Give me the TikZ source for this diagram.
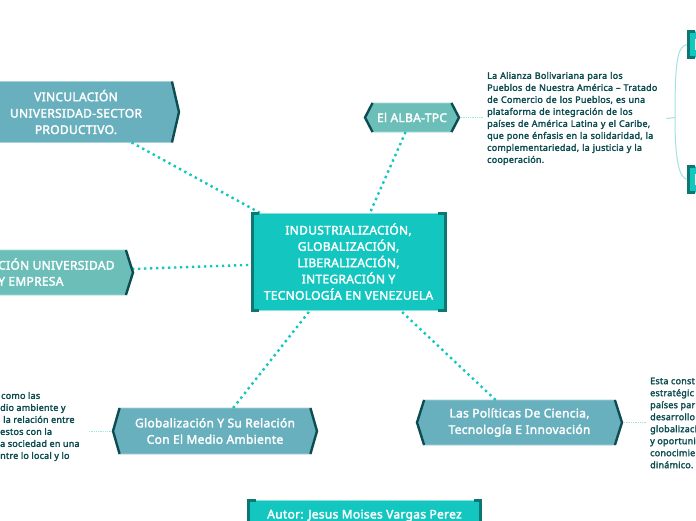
\documentclass[tikz,border=0pt]{standalone}
\usepackage{fontspec}
\setmainfont{Noto Sans}
\newfontfamily\heavyfont{Noto Sans}[FakeBold=2.4,LetterSpace=2.5]
\definecolor{MainTeal}{RGB}{19, 198, 191}
\definecolor{BlueTeal}{RGB}{104, 176, 189}
\definecolor{SoftTeal}{RGB}{108, 191, 185}
\definecolor{DeepTeal}{RGB}{13, 76, 80}
\definecolor{EdgeTeal}{RGB}{13, 120, 115}
\definecolor{PaleTeal}{RGB}{158, 228, 224}
\usetikzlibrary{calc, shapes.symbols}

\begin{document}
\begin{tikzpicture}[
        x=1pt, y=-1pt,
        hexbox/.style={shape=signal, signal to=east and west, fill=#1, draw=#1!60!white, line width=0.7pt,
            inner sep=0pt, outer sep=0pt, text=white, align=center,
            font=\heavyfont\fontsize{12}{16.4}\selectfont},
        hextext/.style={inner sep=0pt, text=white, align=left, font=\heavyfont\fontsize{12}{16}\selectfont},
        mainbox/.style={rectangle, fill=MainTeal, draw=MainTeal!50!white, line width=0.7pt,
            inner sep=0pt, outer sep=0pt, text=white, align=center,
            font=\heavyfont\fontsize{12}{16.3}\selectfont},
        note/.style={inner sep=0pt, text=DeepTeal, align=left, font=\heavyfont\fontsize{9}{12}\selectfont},
        link/.style={draw=MainTeal, line width=2.4pt, dash pattern=on 2.4pt off 3.6pt},
        thinlink/.style={draw=PaleTeal, line width=0.8pt, densely dotted},
        branch/.style={draw=PaleTeal, line width=1pt},
        bracket/.style={draw=EdgeTeal, line width=3pt, line join=miter},
        tipedge/.style={draw=DeepTeal, line width=2.4pt, line join=miter}
    ]
        \useasboundingbox (0,0) rectangle (696,520);

        \node[mainbox, minimum width=193pt, minimum height=97pt] (main) at (348.5,261.5) {INDUSTRIALIZACIÓN,\\GLOBALIZACIÓN,\\LIBERALIZACIÓN,\\INTEGRACIÓN Y\\TECNOLOGÍA EN VENEZUELA};
        \node[mainbox, minimum width=232pt, minimum height=30pt] (autor) at (364.5,515.5) {Autor: Jesus Moises Vargas Perez};

        \node[hexbox=BlueTeal, minimum width=206pt, minimum height=61pt, signal pointer angle=154] (vinc) at (76,112) {VINCULACIÓN\\UNIVERSIDAD-SECTOR\\PRODUCTIVO.};
        \node[hexbox=SoftTeal, minimum width=206pt, minimum height=45pt, signal pointer angle=145] (empresa) at (30,272.5) {};
        \node[hextext, anchor=west] (empresatext) at (-2,272) {CIÓN UNIVERSIDAD\\Y EMPRESA};
        \node[hexbox=SoftTeal, minimum width=94pt, minimum height=29pt, signal pointer angle=125] (alba) at (412,117.5) {El ALBA-TPC};
        \node[hexbox=BlueTeal, minimum width=204pt, minimum height=46pt, signal pointer angle=148] (medio) at (215,431) {Globalización Y Su Relación\\Con El Medio Ambiente};
        \node[hexbox=BlueTeal, minimum width=205pt, minimum height=45pt, signal pointer angle=145] (politicas) at (519.5,422.5) {Las Políticas De Ciencia,\\Tecnología E Innovación};

        % Notes
        \node[note, anchor=west, text width=175pt] (albanote) at (487,118.5) {La Alianza Bolivariana para los\\Pueblos de Nuestra América – Tratado\\de Comercio de los Pueblos, es una\\plataforma de integración de los\\países de América Latina y el Caribe,\\que pone énfasis en la solidaridad, la\\complementariedad, la justicia y la\\cooperación.};
        \node[note, anchor=west] (medionote) at (0,426.5) {\hspace*{1pt}como las\\dio ambiente y\\\hspace*{3pt}la relación entre\\estos con la\\a sociedad en una\\ntre lo local y lo};
        \node[note, anchor=west] (polnote) at (650,423) {Esta const\\estratégic\\países par\\desarrollo\\globalizaci\\y oportuni\\conocimie\\dinámico.};

        % Small boxes at the right edge
        \node[mainbox, minimum width=86pt, minimum height=26pt] (topbox) at (731,44.5) {};
        \node[mainbox, minimum width=86pt, minimum height=26pt] (lowbox) at (731,179.5) {};
        \fill[white] (694.5,39) rectangle (696,50);
        \fill[white] (694.5,174) rectangle (696,185);
        \coordinate (fork) at (675,117.5);

        % Edges
        \draw[link] (vinc) -- (main);
        \draw[link] (empresa) -- (main);
        \draw[link] (alba) -- (main);
        \draw[link] (medio) -- (main);
        \draw[link] (politicas) -- (main);
        \draw[thinlink] (alba.east) -- ++(24,0);
        \draw[thinlink] (medio.west) -- ++(-24,0);
        \draw[thinlink] (politicas.east) -- ++(24,0);
        \draw[branch] ([xshift=4pt]albanote.east) -- (fork);
        \draw[branch] (fork) .. controls (675,62) and (677,45) .. (topbox.west);
        \draw[branch] (fork) .. controls (675,160) and (679,179) .. (lowbox.west);

        % Corner marks
        \foreach \n in {main,autor,topbox,lowbox} {
            \draw[bracket] ([xshift=7pt]\n.north west) -- (\n.north west) -- (\n.south west) -- ([xshift=7pt]\n.south west);
            \draw[bracket] ([xshift=-7pt]\n.north east) -- (\n.north east) -- (\n.south east) -- ([xshift=-7pt]\n.south east);
        }
        \foreach \n in {vinc,empresa,alba,medio,politicas} {
            \draw[tipedge] (\n.north east) -- (\n.east) -- (\n.south east);
            \draw[tipedge] (\n.north west) -- (\n.west) -- (\n.south west);
        }
    \end{tikzpicture}
\end{document}
